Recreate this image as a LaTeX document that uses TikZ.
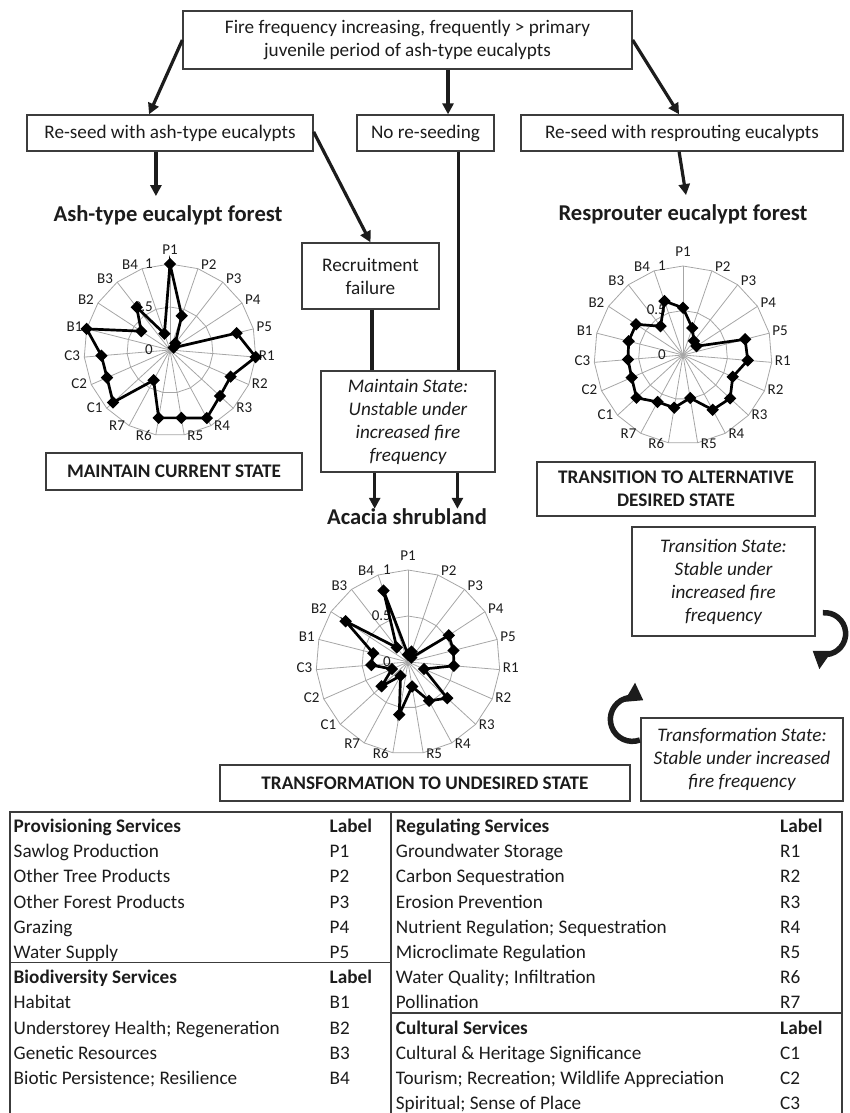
\documentclass[tikz,border=0pt]{standalone}
\usepackage{fontspec}
\setmainfont{Carlito}
\usetikzlibrary{arrows.meta,calc,shapes.geometric}
\definecolor{boxcol}{HTML}{3C3C3C}
\definecolor{gridcol}{HTML}{A6A6A6}
\definecolor{ink}{HTML}{1C1C1C}
\newcommand\fsN{\fontsize{19.2}{23}\selectfont}
\newcommand\fsT{\fontsize{22.6}{27}\selectfont\bfseries}
\newcommand\fsL{\fontsize{15}{18}\selectfont}
\newcommand\radarchart[4]{%
 \begin{scope}[shift={#2}, y=1pt]
  \foreach \f in {0.5,1}{%
   \draw[gridline] (90:{\f*#3}) \foreach \i in {1,...,18}{ -- ({90-\i*360/19}:{\f*#3})} -- cycle;}
  \foreach \i in {0,...,18}{\draw[gridline] (0,0) -- ({90-\i*360/19}:#3);}
  \foreach \lab [count=\i from 0] in {P1,P2,P3,P4,P5,R1,R2,R3,R4,R5,R6,R7,C1,C2,C3,B1,B2,B3,B4}{%
   \pgfmathsetmacro\ang{90-\i*360/19}%
   \ifnum\i=0
     \node[axlab] (#1-lab\i) at (0,{#3+14}) {\lab};
   \else\ifnum\i<10
     \node[axlab, anchor=west] (#1-lab\i) at ({#3*cos(\ang)+2},{(#3+2.5)*sin(\ang)+1}) {\lab};
   \else
     \node[axlab, anchor=east] (#1-lab\i) at ({#3*cos(\ang)-3},{(#3+2.5)*sin(\ang)+1}) {\lab};
   \fi\fi}
  \node[axlab, anchor=east] (#1-v0) at (-16,0) {0};
  \node[axlab, anchor=east] (#1-v5) at (-16,{0.5*#3}) {0.5};
  \node[axlab, anchor=east] (#1-v1) at (-16,{#3}) {1};
  \foreach \v [count=\i from 0] in {#4}{%
   \coordinate (#1-\i) at ({90-\i*360/19}:{\v*#3});}
  \draw[dataline] (#1-0) \foreach \i in {1,...,18}{ -- (#1-\i)} -- cycle;
  \foreach \i in {0,...,18}{\node[mk] (#1-m\i) at (#1-\i) {};}
 \end{scope}}
\begin{document}
\begin{tikzpicture}[x=1pt,y=-1pt,
  box/.style={draw=boxcol, line width=1.3pt, inner sep=2pt, align=center, font=\fsN, text=ink},
  title/.style={font=\fsT, inner sep=0pt, text=ink},
  gridline/.style={draw=gridcol, line width=0.8pt},
  dataline/.style={draw=black, line width=2.7pt, line join=miter},
  mk/.style={diamond, fill=black, inner sep=0pt, minimum width=12.5pt, minimum height=12.5pt},
  axlab/.style={font=\fsL, inner sep=1pt, text height=11pt, text depth=3pt, text=ink},
  arr/.style={draw=ink, line width=3.2pt, -{Triangle[length=11pt,width=11pt]}},
  plain/.style={draw=ink, line width=3.2pt},
  loop/.style={draw=ink, line width=5.5pt, -{Triangle[length=16pt,width=21pt]}},
  tline/.style={draw=boxcol, line width=1.6pt},
  cell/.style={font=\fsN, anchor=base west, inner sep=0pt, text=ink}]
\useasboundingbox (0,0) rectangle (850,1113);

% ---- flow boxes
\node[box, minimum width=449pt, minimum height=58pt] (top) at (407.5,40) {Fire frequency increasing, frequently > primary\\juvenile period of ash-type eucalypts};
\node[box, minimum width=286pt, minimum height=36pt] (rash) at (170,133) {Re-seed with ash-type eucalypts};
\node[box, minimum width=137pt, minimum height=36pt] (nors) at (425.5,133) {No re-seeding};
\node[box, minimum width=322pt, minimum height=36pt] (rres) at (682,133) {Re-seed with resprouting eucalypts};
\node[box, minimum width=137pt, minimum height=66pt] (rec) at (370.5,276) {Recruitment\\failure};
\node[box, font=\fsN\itshape, minimum width=174pt, minimum height=101pt] (mst) at (408,421.5) {Maintain State:\\Unstable under\\increased fire\\frequency};
\node[box, font=\fsN\bfseries, minimum width=256pt, minimum height=37pt] (mcs) at (174,471.5) {MAINTAIN CURRENT STATE};
\node[box, font=\fsN\bfseries, minimum width=278pt, minimum height=54pt] (tads) at (676,489) {TRANSITION TO ALTERNATIVE\\DESIRED STATE};
\node[box, font=\fsN\itshape, minimum width=183pt, minimum height=109pt] (tst) at (723.5,581.5) {Transition State:\\Stable under\\increased fire\\frequency};
\node[box, font=\fsN\bfseries, minimum width=410pt, minimum height=36pt] (tus) at (425,783) {TRANSFORMATION TO UNDESIRED STATE};
\node[box, font=\fsN\itshape, minimum width=202pt, minimum height=83pt] (tfs) at (742,759.5) {Transformation State:\\Stable under increased\\fire frequency};

% ---- titles
\node[title] (ashT) at (168,215) {Ash-type eucalypt forest};
\node[title] (resT) at (683,214) {Resprouter eucalypt forest};
\node[title] (acT) at (407,517) {Acacia shrubland};

% ---- connectors
\draw[arr] (top.west) -- ($(rash.north west)!0.427!(rash.north east)$);
\coordinate (a2s) at ($(top.south west)!0.59!(top.south east)$);
\draw[arr] (a2s) -- (a2s |- nors.north);
\draw[arr] (top.east) -- ($(rres.north west)!0.491!(rres.north east)$);
\coordinate (a4s) at ($(rash.south west)!0.451!(rash.south east)$);
\draw[arr] (a4s) -- ($(a4s |- ashT.north)+(0,-9)$);
\draw[arr] ($(rash.north east)!0.47!(rash.south east)$) -- (rec.north);
\coordinate (a6s) at ($(rres.south west)!0.491!(rres.south east)$);
\draw[arr] (a6s) -- ($(resT.north)+(3,-9)$);
\coordinate (l1s) at ($(nors.south west)!0.737!(nors.south east)$);
\draw[plain] (l1s) -- (l1s |- mst.north);
\coordinate (l2s) at ($(rec.south west)!0.511!(rec.south east)$);
\draw[plain] (l2s) -- (l2s |- mst.north);
\coordinate (a7s) at ($(mst.south west)!0.31!(mst.south east)$);
\draw[arr] (a7s) -- (a7s |- acT.north);
\coordinate (a8s) at ($(mst.south west)!0.782!(mst.south east)$);
\draw[arr] (a8s) -- (a8s |- acT.north);

% ---- self loops
\coordinate (c1) at ($(tst.south east)+(9,-3)$);
\draw[loop] (c1) ++(-95:21) arc[start angle=-95, end angle=125, radius=21];
\coordinate (c2) at ($(tfs.north west)+(-8,2)$);
\draw[loop] (c2) ++(70:22) arc[start angle=70, end angle=300, radius=22];

% ---- radar charts
\radarchart{ash}{(170,350)}{86}{1.0,0.42,0.1,0.05,0.8,1.0,0.77,0.79,0.9,0.8,0.8,0.4,0.9,0.8,0.8,1.0,0.4,0.63,0.2}
\radarchart{res}{(683,355)}{89}{0.53,0.32,0.2,0.18,0.72,0.73,0.61,0.72,0.7,0.49,0.6,0.6,0.71,0.63,0.62,0.63,0.63,0.41,0.64}
\radarchart{aca}{(408,662)}{92}{0.08,0.12,0.06,0.53,0.51,0.5,0.19,0.58,0.48,0.27,0.58,0.17,0.39,0.19,0.4,0.39,0.81,0.2,0.82}

% ---- table frame
\coordinate (tTL) at (10,812);
\coordinate (tTR) at (842,812);
\coordinate (tTM) at (391,812);
\coordinate (tBL) at (10,1113);
\coordinate (tBR) at (842,1113);
\coordinate (tBM) at (391,1113);
\coordinate (dL1) at (10,962.5);
\coordinate (dL2) at (391,962.5);
\coordinate (dR1) at (391,1013);
\coordinate (dR2) at (842,1013);
\draw[tline] (tBL) -- (tTL) -- (tTR) -- (tBR);
\draw[tline] (tTM) -- (tBM);
\draw[tline] (dL1) -- (dL2);
\draw[tline] (dR1) -- (dR2);

% ---- table text
\node[cell, font=\fsN\bfseries] (ph) at (13.5,832.5) {Provisioning Services};
\node[cell, font=\fsN\bfseries] (phl) at (329.5,832.5) {Label};
\foreach \nm/\lb [count=\k from 1] in {Sawlog Production/P1, Other Tree Products/P2, Other Forest Products/P3, Grazing/P4, Water Supply/P5}{
  \node[cell] (pn\k) at (13.5,{832.5+25.2*\k}) {\nm};
  \node[cell] (pl\k) at (329.5,{832.5+25.2*\k}) {\lb};}
\node[cell, font=\fsN\bfseries] (bh) at (13.5,{832.5+25.2*6}) {Biodiversity Services};
\node[cell, font=\fsN\bfseries] (bhl) at (329.5,{832.5+25.2*6}) {Label};
\foreach \nm/\lb [count=\k from 7] in {Habitat/B1, Understorey Health; Regeneration/B2, Genetic Resources/B3, Biotic Persistence; Resilience/B4}{
  \node[cell] (bn\k) at (13.5,{832.5+25.2*\k}) {\nm};
  \node[cell] (bl\k) at (329.5,{832.5+25.2*\k}) {\lb};}
\node[cell, font=\fsN\bfseries] (rh) at (395.7,832.5) {Regulating Services};
\node[cell, font=\fsN\bfseries] (rhl) at (780,832.5) {Label};
\foreach \nm/\lb [count=\k from 1] in {Groundwater Storage/R1, Carbon Sequestration/R2, Erosion Prevention/R3, Nutrient Regulation; Sequestration/R4, Microclimate Regulation/R5, Water Quality; Infiltration/R6, Pollination/R7}{
  \node[cell] (rn\k) at (395.7,{832.5+25.2*\k}) {\nm};
  \node[cell] (rl\k) at (780,{832.5+25.2*\k}) {\lb};}
\node[cell, font=\fsN\bfseries] (ch) at (395.7,{832.5+25.2*8}) {Cultural Services};
\node[cell, font=\fsN\bfseries] (chl) at (780,{832.5+25.2*8}) {Label};
\foreach \nm/\lb [count=\k from 9] in {Cultural \& Heritage Significance/C1, Tourism; Recreation; Wildlife Appreciation/C2, Spiritual; Sense of Place/C3}{
  \node[cell] (cn\k) at (395.7,{832.5+25.2*\k}) {\nm};
  \node[cell] (cl\k) at (780,{832.5+25.2*\k}) {\lb};}
\end{tikzpicture}
\end{document}
